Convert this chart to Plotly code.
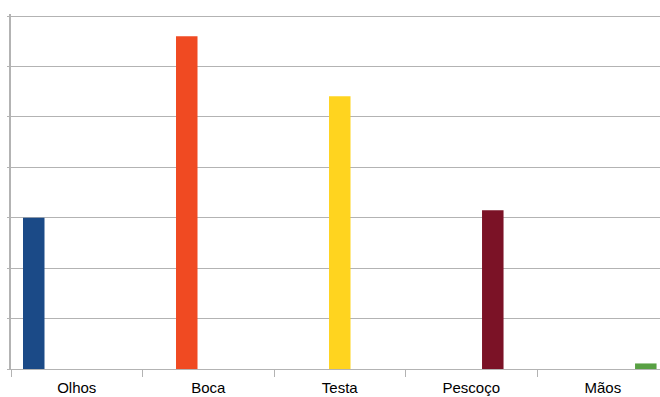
import plotly.graph_objects as go

categories = ["Olhos", "Boca", "Testa", "Pescoço", "Mãos"]
values = [3.0, 6.6, 5.41, 3.15, 0.11]
colors = ["#1B4A87", "#F04A22", "#FFD41F", "#7B1226", "#58A043"]

fig = go.Figure()
for i, (cat, val, col) in enumerate(zip(categories, values, colors)):
    y = [None] * len(categories)
    y[i] = val
    fig.add_trace(go.Bar(x=categories, y=y, name=cat, marker=dict(color=col, line=dict(width=0))))

fig.update_layout(
    width=660, height=397,
    margin=dict(l=11, r=0, t=14, b=28),
    paper_bgcolor="white", plot_bgcolor="white",
    barmode="group", bargap=0.1825, bargroupgap=0,
    showlegend=False,
    font=dict(family="Liberation Sans, Arial, sans-serif", size=15, color="#000000"),
)
fig.update_xaxes(
    type="category", range=[-0.5, 4.435],
    showline=True, linecolor="#b3b3b3", linewidth=1,
    ticks="outside", tickson="boundaries", ticklen=7, tickcolor="#b3b3b3",
    showgrid=False, tickfont=dict(size=15, color="#000000"),
    ticklabelstandoff=5,
)
fig.update_yaxes(
    range=[0, 7.04], dtick=1, showticklabels=False,
    showgrid=True, gridcolor="#b3b3b3", gridwidth=1,
    showline=True, linecolor="#b3b3b3", linewidth=2,
    ticks="outside", ticklen=2, tickcolor="#b3b3b3",
    zeroline=False,
)
fig.write_html("out.html")
